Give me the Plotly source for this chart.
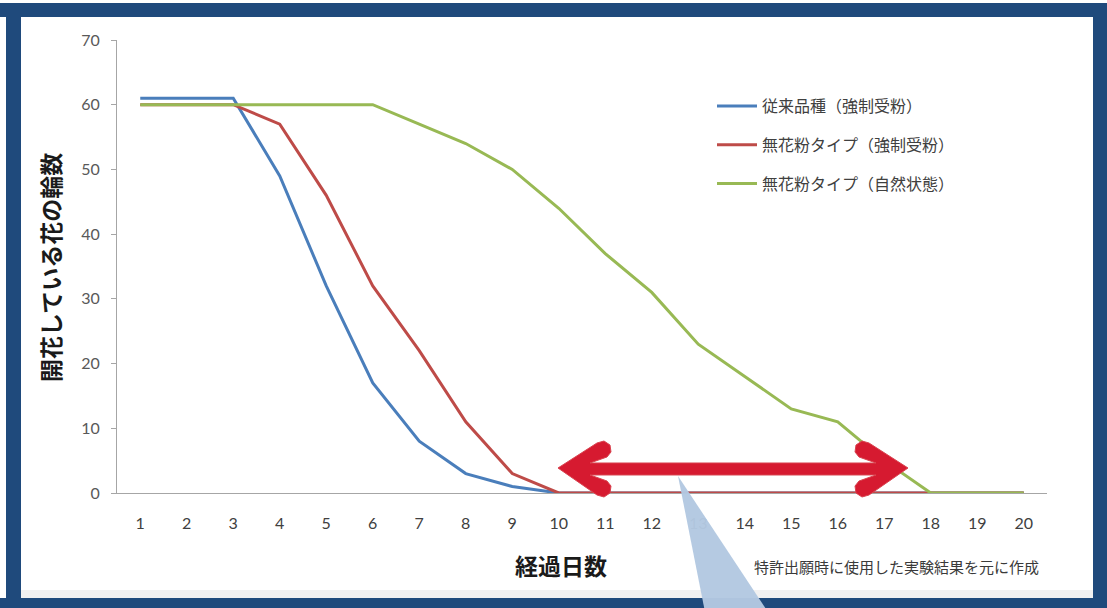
import plotly.graph_objects as go

# ---- data ----
days = list(range(1, 21))
day_labels = [str(d) for d in days]
conventional = [61, 61, 61, 49, 32, 17, 8, 3, 1, 0, 0, 0, 0, 0, 0, 0, 0, 0, 0, 0]
pollenless_forced = [60, 60, 60, 57, 46, 32, 22, 11, 3, 0, 0, 0, 0, 0, 0, 0, 0, 0, 0, 0]
pollenless_natural = [60, 60, 60, 60, 60, 60, 57, 54, 50, 44, 37, 31, 23, 18, 13, 11, 5, 0, 0, 0]
series_names = ["従来品種（強制受粉）", "無花粉タイプ（強制受粉）", "無花粉タイプ（自然状態）"]
series_colors = ["#4a7ebb", "#be4b48", "#98b954"]
y_ticks = [0, 10, 20, 30, 40, 50, 60, 70]

W_FIG, H_FIG = 1107, 608
L, T, R, B = 117, 40, 1047, 493
PW, PH = R - L, B - T


def px(x):
    return (x - L) / PW


def py(y):
    return 1 - (y - T) / PH


FONT = "Lato, 'Noto Sans CJK JP', sans-serif"
CJK = "'Noto Sans CJK JP', sans-serif"

fig = go.Figure()
for name, vals, col in zip(series_names, [conventional, pollenless_forced, pollenless_natural], series_colors):
    fig.add_trace(go.Scatter(
        x=days, y=vals, mode="lines", name=name, legendgroup=name,
        line=dict(color=col, width=3),
    ))

shapes = []
# frame
navy = "#1f4a7c"
for (x0, y0, x1, y1) in [(0, 3, W_FIG, 17), (6, 3, 21, H_FIG), (1093, 3, W_FIG, H_FIG), (0, 598, W_FIG, H_FIG)]:
    shapes.append(dict(type="rect", xref="paper", yref="paper", x0=px(x0), x1=px(x1), y0=py(y0), y1=py(y1),
                       fillcolor=navy, line=dict(width=0), layer="above"))
# faint band above bottom border
shapes.append(dict(type="rect", xref="paper", yref="paper", x0=px(21), x1=px(1093), y0=py(590), y1=py(598),
                   fillcolor="#f1f1f1", line=dict(width=0), layer="below"))

# red double arrow
pts = [(558, 468), (597, 443), (604, 441), (610, 445), (611, 452), (607, 457), (590, 463),
       (876, 463), (859, 457), (855, 452), (856, 445), (862, 441), (869, 443), (908, 468),
       (869, 495), (862, 497), (856, 493), (855, 486), (859, 481), (876, 475),
       (590, 475), (607, 481), (611, 486), (610, 493), (604, 497), (597, 495)]
path = "M " + " L ".join(f"{px(a):.5f},{py(b):.5f}" for a, b in pts) + " Z"
shapes.append(dict(type="path", xref="paper", yref="paper", path=path,
                   fillcolor="#d61a30", line=dict(color="#d9434f", width=1), layer="above"))

# callout pointer
tri = [(678, 476), (705, 612), (768, 612)]
tpath = "M " + " L ".join(f"{px(a):.5f},{py(b):.5f}" for a, b in tri) + " Z"
shapes.append(dict(type="path", xref="paper", yref="paper", path=tpath,
                   fillcolor="#b3c8e1", line=dict(width=0), layer="above", opacity=0.97))

annotations = [
    dict(text="<b>開花している花の輪数</b>", xref="paper", yref="paper", x=px(50), y=py(268),
         textangle=-90, showarrow=False, font=dict(family=CJK, size=23, color="#1a1a1a"),
         xanchor="center", yanchor="middle"),
    dict(text="<b>経過日数</b>", xref="paper", yref="paper", x=px(561), y=py(565),
         showarrow=False, font=dict(family=CJK, size=23, color="#1a1a1a"),
         xanchor="center", yanchor="middle"),
    dict(text="特許出願時に使用した実験結果を元に作成", xref="paper", yref="paper", x=px(1041), y=py(566),
         showarrow=False, font=dict(family=CJK, size=15, color="#3a3a3a"),
         xanchor="right", yanchor="middle"),
]

fig.update_layout(
    width=W_FIG, height=H_FIG,
    margin=dict(l=L, r=W_FIG - R, t=T, b=H_FIG - B, pad=0),
    paper_bgcolor="white", plot_bgcolor="white",
    font=dict(family=FONT, color="#4d4d4d"),
    showlegend=True,
    legend=dict(x=px(712), y=py(89), xanchor="left", yanchor="top",
                font=dict(family=CJK, size=16, color="#404040"),
                bgcolor="rgba(0,0,0,0)", tracegroupgap=15, itemwidth=40),
    xaxis=dict(range=[0.5, 20.5], tickmode="array", tickvals=days, ticktext=day_labels,
               showgrid=False, zeroline=False, showline=True, linecolor="#a6a6a6", linewidth=1,
               ticks="", tickfont=dict(family=FONT, size=16, color="#404040"),
               ticklabelstandoff=16, fixedrange=True),
    yaxis=dict(range=[0, 70], tickmode="array", tickvals=y_ticks,
               showgrid=False, zeroline=False, showline=True, linecolor="#a6a6a6", linewidth=1,
               ticks="outside", ticklen=5, tickcolor="#a6a6a6",
               tickfont=dict(family=FONT, size=16, color="#595959"),
               ticklabelstandoff=8, fixedrange=True),
    shapes=shapes, annotations=annotations,
)

fig.write_html("out.html")
